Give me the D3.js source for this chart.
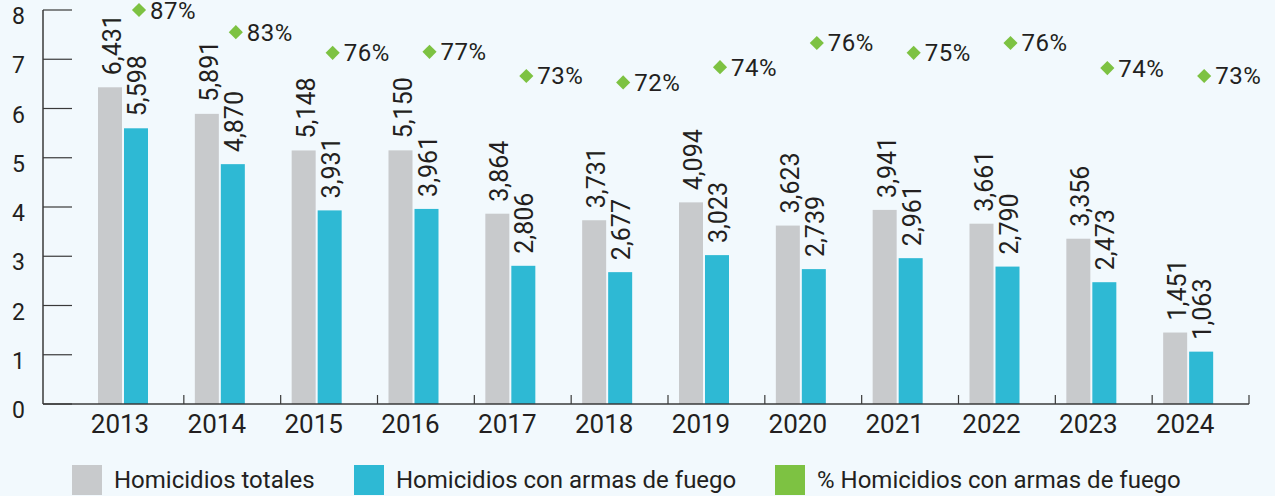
<!DOCTYPE html>
<html>
<head>
<meta charset="utf-8">
<script src="https://cdn.jsdelivr.net/npm/d3@7"></script>
<style>
  html, body { margin: 0; padding: 0; background: #f2f9fd; }
  svg { display: block; font-family: Roboto, "Noto Sans", sans-serif; }
</style>
</head>
<body>
<svg width="1275" height="496"></svg>
<script>
// data (homicidios, miles)
var years = ["2013", "2014", "2015", "2016", "2017", "2018", "2019", "2020", "2021", "2022", "2023", "2024"];
var totales = [6431, 5891, 5148, 5150, 3864, 3731, 4094, 3623, 3941, 3661, 3356, 1451];
var armas = [5598, 4870, 3931, 3961, 2806, 2677, 3023, 2739, 2961, 2790, 2473, 1063];
var pct = [87, 83, 76, 77, 73, 72, 74, 76, 75, 76, 74, 73];
// level of the % markers, read on the left axis
var pctLevel = [8.0, 7.55, 7.13, 7.15, 6.66, 6.53, 6.84, 7.33, 7.13, 7.33, 6.82, 6.66];
var yTicks = [0, 1, 2, 3, 4, 5, 6, 7, 8];
var legendItems = ["Homicidios totales", "Homicidios con armas de fuego", "% Homicidios con armas de fuego"];

var colors = ["#c8cacc", "#2eb9d4", "#7dc242"];
var textColor = "#231f20";
var axisColor = "#3a3a3a";

var svg = d3.select("svg");

var x = d3.scaleBand().domain(years).range([87, 1249]).padding(0);
var y = d3.scaleLinear().domain([0, 8]).range([404, 10]);

var barW = 24;
var barOff = 11; // bar group offset inside band
var fmt = d3.format(",");

var rows = years.map(function (d, i) {
	return { year: d, total: totales[i], armas: armas[i], pct: pct[i], level: pctLevel[i] };
});

// y axis
var yAxis = svg.append("g");
yAxis.append("line")
	.attr("x1", 43).attr("x2", 43)
	.attr("y1", y(8)).attr("y2", y(0))
	.attr("stroke", axisColor).attr("stroke-width", 1.5);
yAxis.selectAll(".tick")
	.data(yTicks)
	.enter()
	.append("line")
	.attr("x1", 43).attr("x2", 72)
	.attr("y1", (d) => y(d)).attr("y2", (d) => y(d))
	.attr("stroke", axisColor).attr("stroke-width", 1.2);
yAxis.selectAll("text")
	.data(yTicks)
	.enter()
	.append("text")
	.attr("x", 25)
	.attr("y", (d) => y(d) + 14)
	.attr("text-anchor", "end")
	.attr("font-size", 23)
	.attr("fill", textColor)
	.text((d) => d);

// bars
var groups = svg.append("g")
	.selectAll("g")
	.data(rows)
	.enter()
	.append("g")
	.attr("transform", (d) => "translate(" + (x(d.year) + barOff) + ",0)");

groups.append("rect")
	.attr("x", 0)
	.attr("width", barW)
	.attr("y", (d) => y(d.total / 1000))
	.attr("height", (d) => y(0) - y(d.total / 1000))
	.attr("fill", colors[0]);

groups.append("rect")
	.attr("x", barW + 2)
	.attr("width", barW)
	.attr("y", (d) => y(d.armas / 1000))
	.attr("height", (d) => y(0) - y(d.armas / 1000))
	.attr("fill", colors[1]);

// value labels, rotated
groups.append("text")
	.attr("transform", (d) => "translate(" + (barW / 2 + 11) + "," + (y(d.total / 1000) - 12) + ") rotate(-90)")
	.attr("font-size", 25)
	.attr("fill", textColor)
	.text((d) => fmt(d.total));

groups.append("text")
	.attr("transform", (d) => "translate(" + (barW * 1.5 + 2 + 10) + "," + (y(d.armas / 1000) - 12) + ") rotate(-90)")
	.attr("font-size", 25)
	.attr("fill", textColor)
	.text((d) => fmt(d.armas));

// % markers
var marks = svg.append("g")
	.selectAll("g")
	.data(rows)
	.enter()
	.append("g")
	.attr("transform", (d) => "translate(" + (x(d.year) + 52) + "," + y(d.level) + ")");

marks.append("path")
	.attr("d", d3.symbol().type(d3.symbolSquare).size(100))
	.attr("transform", "rotate(45)")
	.attr("fill", colors[2]);

marks.append("text")
	.attr("x", 11)
	.attr("y", 8.5)
	.attr("font-size", 24)
	.attr("letter-spacing", 0.5)
	.attr("fill", textColor)
	.text((d) => d.pct + "%");

// x axis
var xAxis = svg.append("g");
xAxis.append("line")
	.attr("x1", 43).attr("x2", 1249)
	.attr("y1", y(0)).attr("y2", y(0))
	.attr("stroke", axisColor).attr("stroke-width", 1.5);
xAxis.selectAll(".tick")
	.data(years)
	.enter()
	.append("line")
	.attr("x1", (d) => x(d) + x.bandwidth()).attr("x2", (d) => x(d) + x.bandwidth())
	.attr("y1", y(0)).attr("y2", y(0) - 9)
	.attr("stroke", axisColor).attr("stroke-width", 1.2);
xAxis.selectAll("text")
	.data(years)
	.enter()
	.append("text")
	.attr("x", (d) => x(d) + 33)
	.attr("y", 433)
	.attr("text-anchor", "middle")
	.attr("font-size", 26)
	.attr("fill", textColor)
	.text((d) => d);

// legend
var legendX = [72, 354, 775];
var legend = svg.append("g")
	.selectAll("g")
	.data(legendItems)
	.enter()
	.append("g")
	.attr("transform", (d, i) => "translate(" + legendX[i] + ",465)");
legend.append("rect")
	.attr("width", 30).attr("height", 30)
	.attr("fill", (d, i) => colors[i]);
legend.append("text")
	.attr("x", 42).attr("y", 23)
	.attr("font-size", 24)
	.attr("fill", textColor)
	.text((d) => d);
</script>
</body>
</html>
